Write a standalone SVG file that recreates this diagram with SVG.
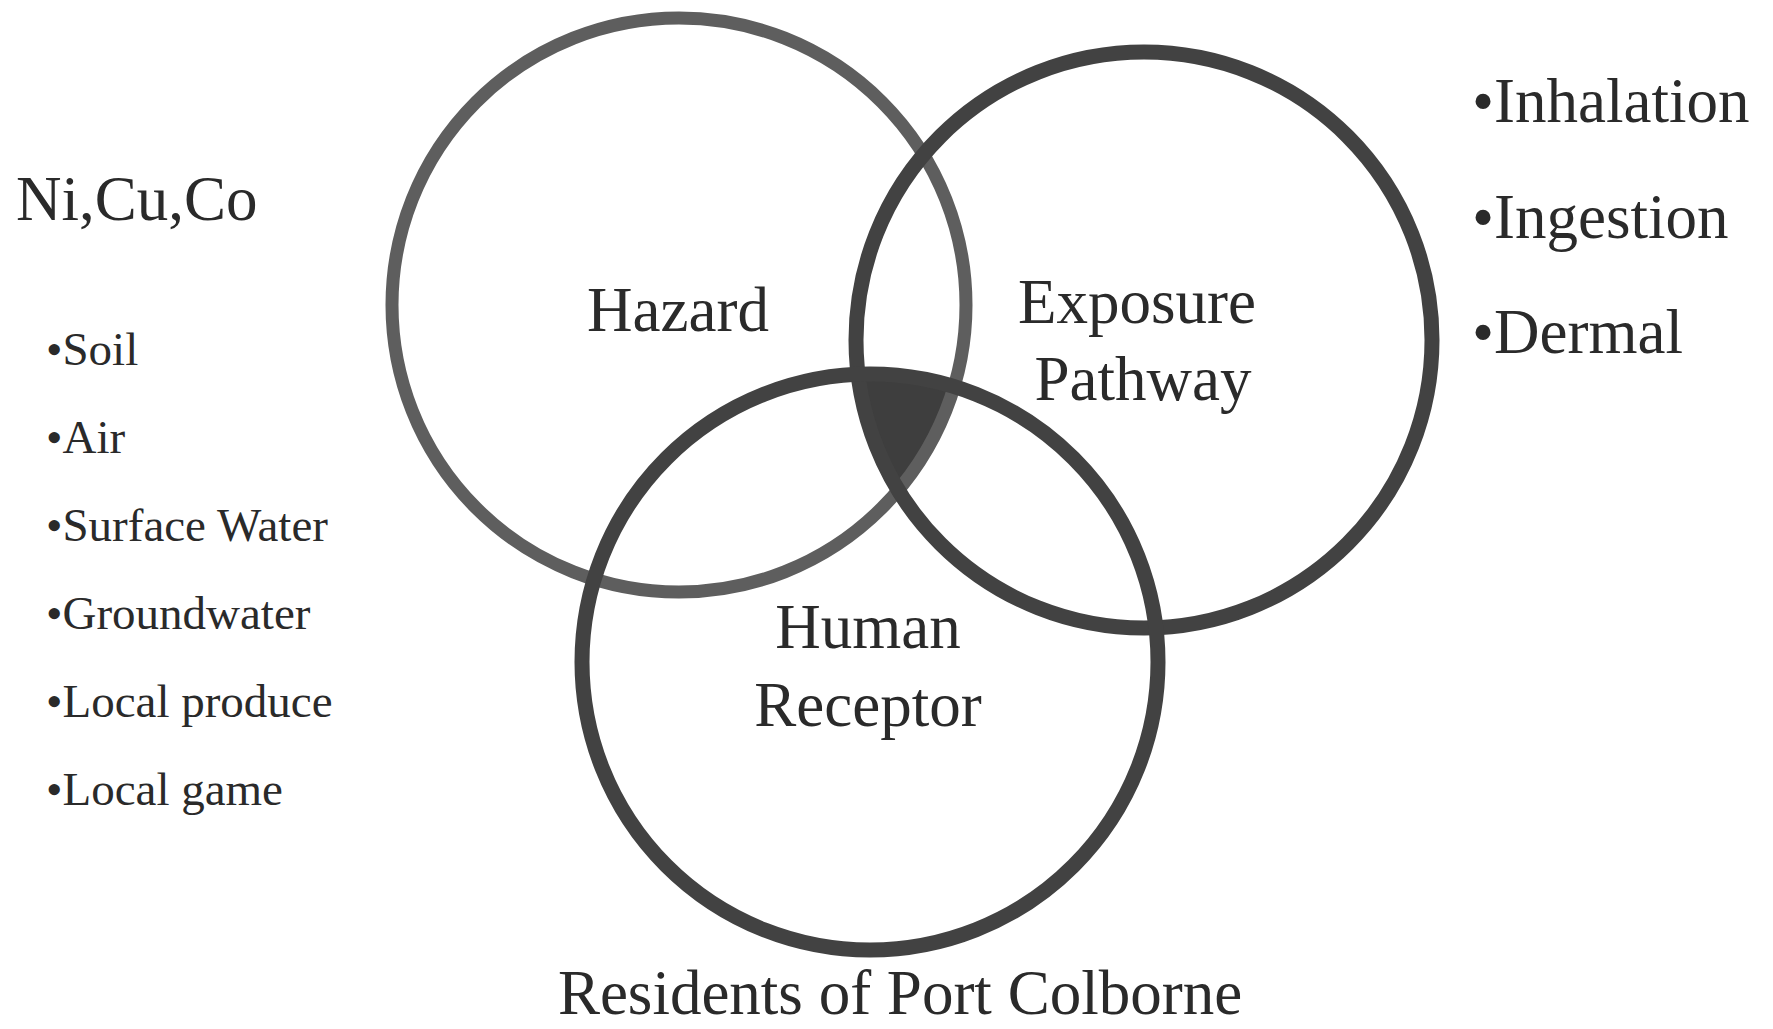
<svg xmlns="http://www.w3.org/2000/svg" width="1773" height="1029" viewBox="0 0 1773 1029">
<style>
text{font-family:"Liberation Serif","Times New Roman",serif;fill:#2a2a2a}
.big{font-size:63px}
.mid{font-size:63px;text-anchor:middle}
.list{font-size:47px}
.ring{fill:none;stroke:#424242;stroke-width:15}
.ring.haz{stroke:#5e5e5e;stroke-width:13}
</style>
<defs>
<clipPath id="clipHaz"><circle cx="679" cy="305" r="287"/></clipPath>
<clipPath id="clipExp"><circle cx="1144" cy="340" r="288"/></clipPath>
</defs>
<rect width="1773" height="1029" fill="#ffffff"/>
<g id="overlap" clip-path="url(#clipHaz)">
<g clip-path="url(#clipExp)">
<circle cx="870" cy="662" r="288" fill="#3e3e3e"/>
</g>
</g>
<g id="hazard">
<circle class="ring haz" cx="679" cy="305" r="287"/>
<text class="mid" x="678" y="331">Hazard</text>
</g>
<g id="exposure">
<circle class="ring" cx="1144" cy="340" r="288"/>
<text class="mid" x="1137" y="323">Exposure</text>
<text class="mid" x="1143" y="400">Pathway</text>
</g>
<g id="human">
<circle class="ring" cx="870" cy="662" r="288"/>
<text class="mid" x="868" y="648">Human</text>
<text class="mid" x="868" y="726">Receptor</text>
</g>
<g id="connectors"></g>
<g id="hazard-sources">
<text class="big" x="16" y="220">Ni,Cu,Co</text>
<text class="list" x="46" y="365">•Soil</text>
<text class="list" x="46" y="453">•Air</text>
<text class="list" x="46" y="541">•Surface Water</text>
<text class="list" x="46" y="629">•Groundwater</text>
<text class="list" x="46" y="717">•Local produce</text>
<text class="list" x="46" y="805">•Local game</text>
</g>
<g id="pathways">
<text class="big" x="1472" y="122">•Inhalation</text>
<text class="big" x="1472" y="238">•Ingestion</text>
<text class="big" x="1472" y="353">•Dermal</text>
</g>
<g id="receptors">
<text class="mid" x="900" y="1014">Residents of Port Colborne</text>
</g>
</svg>
